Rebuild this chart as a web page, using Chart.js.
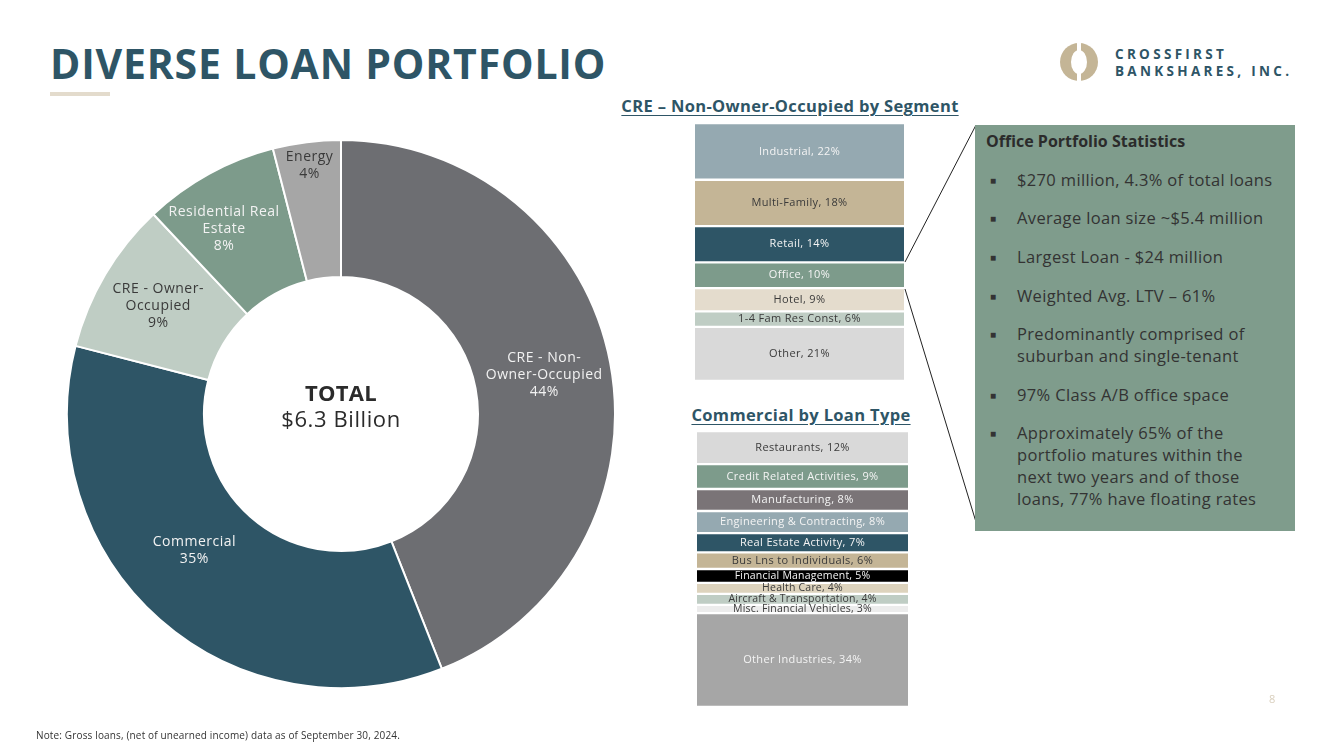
<!DOCTYPE html>
<html>
<head>
<meta charset="utf-8">
<script src="https://cdn.jsdelivr.net/npm/chart.js@4.4.1/dist/chart.umd.min.js"></script>
<style>
  html, body { margin: 0; padding: 0; background: #fff; }
  body { width: 1333px; height: 749px; position: relative; overflow: hidden; font-family: "Open Sans", sans-serif; color: #333; }
  .abs { position: absolute; }
  #title { left: 50px; top: 35px; font-size: 41px; font-weight: 700; color: #2e5566; letter-spacing: 0.8px; white-space: nowrap; }
  #rule { left: 50px; top: 92px; width: 60px; height: 4px; background: #e3dbcc; }
  #logoText { left: 1115px; top: 46px; font-size: 13.5px; font-weight: 700; color: #2e5566; letter-spacing: 3.3px; line-height: 17px; white-space: nowrap; }
  .sub { font-size: 16.5px; font-weight: 700; color: #2e5566; text-decoration: underline; text-underline-offset: 3px; white-space: nowrap; text-align: center; letter-spacing: 0.35px; }
  #box { left: 975px; top: 125px; width: 320px; height: 406px; background: #7f9c8c; }
  #boxTitle { left: 986px; top: 130px; font-size: 16px; font-weight: 700; color: #2b2b2b; letter-spacing: 0px; white-space: nowrap; }
  .bul { left: 990px; font-size: 16.5px; color: #333; line-height: 22px; white-space: nowrap; letter-spacing: 0.35px; }
  .bul span.m { display: inline-block; width: 27px; font-size: 10px; vertical-align: 2px; }
  .bul .t { display: inline-block; vertical-align: top; }
  #note { left: 36px; top: 728px; font-size: 10px; color: #333; white-space: nowrap; letter-spacing: 0.15px; }
  #pg { left: 1269px; top: 691px; font-size: 11px; color: #d9cfbd; }
</style>
</head>
<body>
<div id="title" class="abs">DIVERSE LOAN PORTFOLIO</div>
<div id="rule" class="abs"></div>

<svg class="abs" style="left:1058px;top:41px" width="42" height="42" viewBox="0 0 42 42">
  <circle cx="21" cy="21" r="19" fill="#c4b596"/>
  <ellipse cx="21" cy="21" rx="8" ry="12" fill="#fff"/>
  <rect x="19" y="2" width="4" height="38" fill="#fff"/>
</svg>
<div id="logoText" class="abs">CROSSFIRST<br>BANKSHARES, INC.</div>

<div class="abs" style="left:66px;top:139px;width:550px;height:550px"><canvas id="donut"></canvas></div>

<div class="abs sub" style="left:590px;top:94px;width:400px">CRE – Non-Owner-Occupied by Segment</div>
<div class="abs" style="left:695px;top:123px;width:209px;height:258px"><canvas id="creBar"></canvas></div>

<div class="abs sub" style="left:651px;top:403px;width:300px">Commercial by Loan Type</div>
<div class="abs" style="left:697px;top:431px;width:211px;height:276px"><canvas id="comBar"></canvas></div>

<svg class="abs" style="left:0;top:0" width="1333" height="749">
  <line x1="905" y1="262" x2="976" y2="125" stroke="#222" stroke-width="1"/>
  <line x1="905" y1="289" x2="976" y2="522" stroke="#222" stroke-width="1"/>
</svg>

<div id="box" class="abs"></div>
<div id="boxTitle" class="abs">Office Portfolio Statistics</div>
<div class="abs bul" style="top:169px"><span class="m">■</span><span class="t">$270 million, 4.3% of total loans</span></div>
<div class="abs bul" style="top:207px"><span class="m">■</span><span class="t">Average loan size ~$5.4 million</span></div>
<div class="abs bul" style="top:246px"><span class="m">■</span><span class="t">Largest Loan - $24 million</span></div>
<div class="abs bul" style="top:285px"><span class="m">■</span><span class="t">Weighted Avg. LTV – 61%</span></div>
<div class="abs bul" style="top:323px"><span class="m">■</span><span class="t">Predominantly comprised of<br>suburban and single-tenant</span></div>
<div class="abs bul" style="top:384px"><span class="m">■</span><span class="t">97% Class A/B office space</span></div>
<div class="abs bul" style="top:422px"><span class="m">■</span><span class="t">Approximately 65% of the<br>portfolio matures within the<br>next two years and of those<br>loans, 77% have floating rates</span></div>

<div id="pg" class="abs">8</div>
<div id="note" class="abs">Note: Gross loans, (net of unearned income) data as of September 30, 2024.</div>

<script>
// total portfolio mix (%)
const portfolioLabels = [['CRE - Non-', 'Owner-Occupied'], ['Commercial'], ['CRE - Owner-', 'Occupied'], ['Residential Real', 'Estate'], ['Energy']];
const portfolioValues = [44, 35, 9, 8, 4];

// CRE non-owner-occupied by segment (%)
const creSegments = ['Industrial', 'Multi-Family', 'Retail', 'Office', 'Hotel', '1-4 Fam Res Const', 'Other'];
const creValues = [22, 18, 14, 10, 9, 6, 21];

// commercial by loan type (%)
const comTypes = ['Restaurants', 'Credit Related Activities', 'Manufacturing', 'Engineering & Contracting',
  'Real Estate Activity', 'Bus Lns to Individuals', 'Financial Management', 'Health Care',
  'Aircraft & Transportation', 'Misc. Financial Vehicles', 'Other Industries'];
const comValues = [12, 9, 8, 8, 7, 6, 5, 4, 4, 3, 34];

const portfolioColors = ['#6d6e72', '#2e5566', '#bfcdc4', '#7d9b8b', '#a6a6a6'];
const portfolioText = ['#f2f2f2', '#f2f2f2', '#3a3a3a', '#f2f2f2', '#3a3a3a'];
// label placement: fraction across the ring, plus a small angular nudge (radians)
const labelRadius = [0.51, 0.46, 0.55, 0.6, 0.83];
const labelNudge = [0, 0.1, 0, -0.06, 0];
const creColors = ['#95a9b1', '#c4b596', '#2e5566', '#7d9b8b', '#e4dccd', '#bfcdc4', '#d9d9d9'];
const creText = ['#f4f4f4', '#3a3a3a', '#f4f4f4', '#f4f4f4', '#3a3a3a', '#3a3a3a', '#3a3a3a'];
const comColors = ['#d9d9d9', '#7d9b8b', '#7a7477', '#95a9b1', '#2e5566', '#c4b596', '#000000', '#ddd3bd', '#bfcdc4', '#ececec', '#a6a6a6'];
const comText = ['#3a3a3a', '#f4f4f4', '#f4f4f4', '#f4f4f4', '#f4f4f4', '#3a3a3a', '#f4f4f4', '#3a3a3a', '#3a3a3a', '#3a3a3a', '#f4f4f4'];

const FONT = '"Open Sans", sans-serif';

const donutLabels = {
  id: 'donutLabels',
  afterDatasetsDraw(chart) {
    const ctx = chart.ctx;
    const meta = chart.getDatasetMeta(0);
    ctx.save();
    ctx.textAlign = 'center';
    ctx.textBaseline = 'middle';
    ctx.font = '14px ' + FONT;
    ctx.letterSpacing = '0.5px';
    meta.data.forEach((arc, i) => {
      const mid = (arc.startAngle + arc.endAngle) / 2 + labelNudge[i];
      const r = arc.innerRadius + (arc.outerRadius - arc.innerRadius) * labelRadius[i];
      const x = arc.x + Math.cos(mid) * r;
      const y = arc.y + Math.sin(mid) * r;
      const lines = portfolioLabels[i].concat([portfolioValues[i] + '%']);
      ctx.fillStyle = portfolioText[i];
      lines.forEach((l, k) => ctx.fillText(l, x, y + (k - (lines.length - 1) / 2) * 17));
    });
    // centre text
    ctx.fillStyle = '#2b2b2b';
    ctx.letterSpacing = '0.3px';
    ctx.font = 'bold 22px ' + FONT;
    ctx.fillText('TOTAL', meta.data[0].x, meta.data[0].y - 19);
    ctx.letterSpacing = '0.6px';
    ctx.font = '22px ' + FONT;
    ctx.fillText('$6.3 Billion', meta.data[0].x, meta.data[0].y + 7);
    ctx.restore();
  }
};

new Chart(document.getElementById('donut').getContext('2d'), {
  type: 'doughnut',
  data: {
    labels: portfolioLabels,
    datasets: [{
      data: portfolioValues,
      backgroundColor: portfolioColors,
      borderColor: '#fff',
      borderWidth: 2
    }]
  },
  options: {
    responsive: true,
    maintainAspectRatio: false,
    animation: false,
    cutout: '50%',
    plugins: { legend: { display: false }, tooltip: { enabled: false } }
  },
  plugins: [donutLabels]
});

function barLabels(textColors) {
  return {
    id: 'barLabels',
    afterDatasetsDraw(chart) {
      const ctx = chart.ctx;
      ctx.save();
      ctx.textAlign = 'center';
      ctx.textBaseline = 'middle';
      chart.data.datasets.forEach((ds, i) => {
        const bar = chart.getDatasetMeta(i).data[0];
        const big = ds.data[0] >= 6;
        ctx.font = (big ? 11 : 10.5) + 'px ' + FONT;
        ctx.letterSpacing = big ? '0.35px' : '0.2px';
        ctx.fillStyle = textColors[i];
        ctx.fillText(ds.label + ', ' + ds.data[0] + '%', bar.x, (bar.y + bar.base) / 2);
      });
      ctx.restore();
    }
  };
}

function stackedBar(id, names, values, colors, textColors) {
  new Chart(document.getElementById(id).getContext('2d'), {
    type: 'bar',
    data: {
      labels: [''],
      datasets: names.map((n, i) => ({
        label: n,
        data: [values[i]],
        backgroundColor: colors[i],
        borderColor: '#fff',
        borderWidth: { top: 1.5, bottom: 1.5, left: 0, right: 0 },
        borderSkipped: false,
        barPercentage: 1,
        categoryPercentage: 1
      }))
    },
    options: {
      responsive: true,
      maintainAspectRatio: false,
      animation: false,
      layout: { padding: 0 },
      scales: {
        x: { stacked: true, display: false },
        y: { stacked: true, display: false, min: 0, max: 100, reverse: true }
      },
      plugins: { legend: { display: false }, tooltip: { enabled: false } }
    },
    plugins: [barLabels(textColors)]
  });
}

stackedBar('creBar', creSegments, creValues, creColors, creText);
stackedBar('comBar', comTypes, comValues, comColors, comText);
</script>
</body>
</html>
